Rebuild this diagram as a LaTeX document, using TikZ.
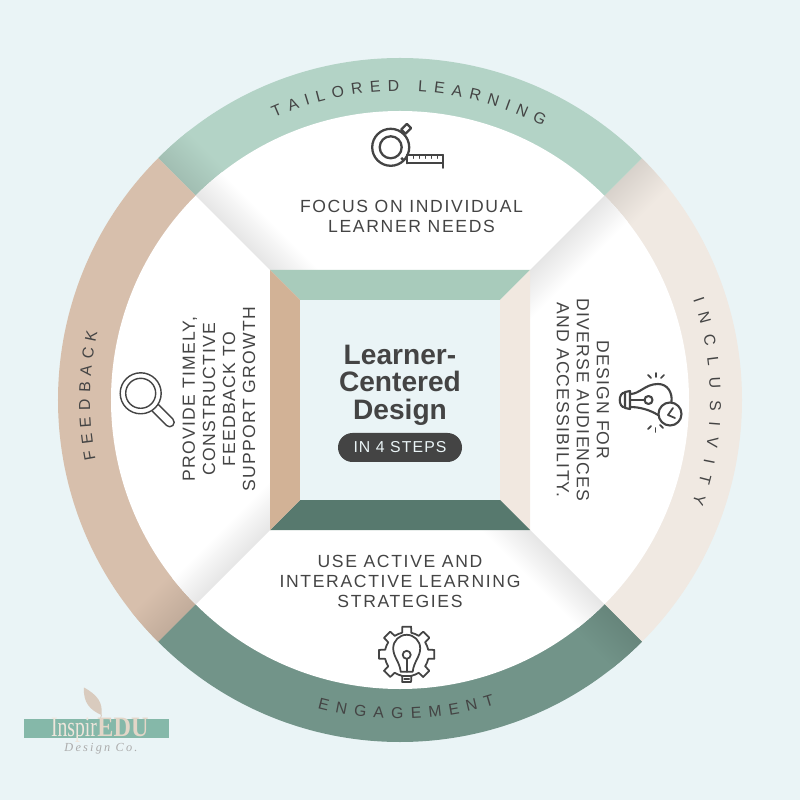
\documentclass[tikz,border=0pt]{standalone}
\usepackage{fontspec}
\setmainfont{Liberation Sans}
\newfontfamily\stepfont[LetterSpace=7]{Liberation Sans}
\newfontfamily\stepwide[LetterSpace=9.5]{Liberation Sans}
\newfontfamily\pillfont[LetterSpace=7]{Liberation Sans}
\newfontfamily\logofont{Liberation Serif}
\newfontfamily\logoscript[LetterSpace=18]{Liberation Serif}
\usetikzlibrary{decorations.text}
\definecolor{pagebg}{HTML}{EAF4F6}
\definecolor{inktext}{HTML}{444444}
\definecolor{ringmint}{HTML}{B3D3C6}
\definecolor{ringbeige}{HTML}{F0E9E2}
\definecolor{ringsage}{HTML}{729489}
\definecolor{ringtan}{HTML}{D7BFAC}
\definecolor{boxmint}{HTML}{A8CBBB}
\definecolor{boxbeige}{HTML}{F1E8E0}
\definecolor{boxsage}{HTML}{57796E}
\definecolor{boxtan}{HTML}{D2B296}
\definecolor{logobar}{HTML}{85B8A9}
\definecolor{logocream}{HTML}{EFE6DC}
\definecolor{logobeige}{HTML}{E3D6C8}
\definecolor{logoquill}{HTML}{D9CBBE}

\begin{document}
\begin{tikzpicture}[
    steptext/.style={text=inktext, align=center,
                     font=\stepfont\fontsize{10}{11.4}\selectfont},
    widetext/.style={text=inktext, align=center,
                     font=\stepwide\fontsize{10}{11.4}\selectfont},
    iconline/.style={draw=inktext, line width=1.3pt, line join=round, line cap=round},
    gearline/.style={draw=inktext, line width=1pt, line join=round, line cap=round},
    thinicon/.style={draw=inktext, line width=0.8pt, line join=round, line cap=round},
    ringlabel/.style={decorate, decoration={text along path, text align={fit to path},
                      text={#1}}}
]
\fill[pagebg] (-8,-8) rectangle (8,8);
\useasboundingbox (-8,-8) rectangle (8,8);

\foreach \ang/\seg in {45/ringbeige,135/ringmint,225/ringtan,315/ringsage} {
  \fill[\seg] (0,0) -- (\ang:6.84) arc[start angle=\ang, delta angle=-90, radius=6.84] -- cycle;
  \begin{scope}[transform canvas={rotate=\ang}]
    \clip (0,0) circle (6.84);
    \shade[top color=\seg!90!black, bottom color=\seg] (4,0) rectangle (7,-0.8);
  \end{scope}
}

\fill[white] (0,0) circle (5.78);
\foreach \ang in {45,135,225,315} {
  \begin{scope}[transform canvas={rotate=\ang}]
    \clip (0,0) circle (5.78);
    \shade[top color=black!10, bottom color=white] (0,0) rectangle (6,-0.7);
  \end{scope}
}

\fill[boxmint]  (-2.6,2.6) -- (2.6,2.6) -- (2,2) -- (-2,2) -- cycle;
\fill[boxbeige] (2.6,2.6) -- (2.6,-2.6) -- (2,-2) -- (2,2) -- cycle;
\fill[boxsage]  (2.6,-2.6) -- (-2.6,-2.6) -- (-2,-2) -- (2,-2) -- cycle;
\fill[boxtan]   (-2.6,-2.6) -- (-2.6,2.6) -- (-2,2) -- (-2,-2) -- cycle;
\fill[pagebg]   (-2,-2) rectangle (2,2);

\node[text=inktext, align=center, font=\bfseries\fontsize{16}{15.6}\selectfont]
  (title) at (0,0.3) {Learner-\\Centered\\Design};
\node[fill=inktext, text=pagebg, rounded corners=0.29cm, minimum width=2.48cm,
      minimum height=0.58cm, inner sep=0pt, font=\pillfont\fontsize{9}{9}\selectfont]
  (steps) at (0,-0.95) {IN 4 STEPS};

\node[widetext] (tailored) at (0.23,3.68) {FOCUS ON INDIVIDUAL\\LEARNER NEEDS};
\node[steptext, rotate=-90] (inclusive) at (3.66,0) {DESIGN FOR\\DIVERSE AUDIENCES\\AND ACCESSIBILITY.};
\node[widetext] (engage) at (0,-3.62) {USE ACTIVE AND\\INTERACTIVE LEARNING\\STRATEGIES};
\node[steptext, rotate=90] (feedback) at (-3.62,0.02) {PROVIDE TIMELY,\\CONSTRUCTIVE\\FEEDBACK TO\\SUPPORT GROWTH};

\path[ringlabel={|\color{inktext}\fontsize{9}{9}\selectfont|TAILORED LEARNING}]
  (114:6.18) arc[start angle=114, end angle=62.5, radius=6.18];
\path[ringlabel={|\color{inktext}\fontsize{9}{9}\selectfont|INCLUSIVITY}]
  (19:6.2) arc[start angle=19, end angle=-19.5, radius=6.2];
\path[ringlabel={|\color{inktext}\fontsize{9}{9}\selectfont|ENGAGEMENT}]
  (255:6.38) arc[start angle=255, end angle=287.3, radius=6.38];
\path[ringlabel={|\color{inktext}\fontsize{9}{9}\selectfont|FEEDBACK}]
  (191:6.2) arc[start angle=191, end angle=167.3, radius=6.2];

\begin{scope}[shift={(-0.186,5.054)}]
  \draw[iconline] (0,0) circle (0.22);
  \draw[iconline] (0,0) circle (0.37);
  \draw[iconline] (0.33,-0.32) -- (1.04,-0.32) -- (1.04,-0.154) -- (0.33,-0.154);
  \draw[iconline] (1.04,-0.154) -- (1.04,-0.41);
  \draw[iconline] (0.33,-0.154) -- (0.33,-0.32);
  \draw[iconline, rotate around={45:(0.31,0.37)}] (0.23,0.31) rectangle (0.39,0.43);
  \foreach \tick in {0.45,0.57,0.69,0.81,0.93} {
    \draw[thinicon] (\tick,-0.154) -- (\tick,-0.22);
  }
  \fill[inktext] (0.23,-0.23) circle (0.035);
\end{scope}

\begin{scope}[shift={(5,0)}]
  \draw[gearline, line width=1.2pt] (-0.4,0.12) .. controls (-0.2,0.12) and (-0.1,0.32) .. (0.16,0.32)
    .. controls (0.35,0.32) and (0.45,0.15) .. (0.43,-0.03);
  \draw[gearline, line width=1.2pt] (-0.4,-0.14) .. controls (-0.2,-0.14) and (0,-0.2) .. (0.16,-0.3);
  \draw[gearline, line width=1.2pt] (-0.4,0.18) -- (-0.4,-0.18) -- (-0.5,-0.16) -- (-0.5,0.16) -- cycle;
  \draw[gearline, line width=1.2pt] (-0.5,0.15) .. controls (-0.64,0.15) and (-0.64,-0.15) .. (-0.5,-0.15);
  \draw[gearline, line width=1.2pt] (-0.4,0) -- (-0.11,0);
  \draw[gearline, line width=1.2pt] (-0.03,0) circle (0.08);
  \draw[gearline, line width=1.2pt] (0.4,-0.28) circle (0.23);
  \draw[gearline] (0.46,-0.16) -- (0.36,-0.3) -- (0.5,-0.36);
  \draw[gearline] (-0.04,0.5) -- (0.02,0.44);
  \draw[gearline] (0.12,0.54) -- (0.12,0.46);
  \draw[gearline] (0.28,0.5) -- (0.22,0.44);
  \draw[gearline] (-0.04,-0.58) -- (0.02,-0.52);
  \draw[gearline] (0.11,-0.64) -- (0.11,-0.56);
  \draw[gearline] (0.26,-0.56) -- (0.2,-0.5);
\end{scope}

\begin{scope}[shift={(0.134,-5.086)}]
  \foreach \t in {0,45,...,315} {
    \draw[gearline] (\t-9:0.56) -- (\t+9:0.56) -- (\t+12:0.44)
      arc[start angle=\t+12, end angle=\t+33, radius=0.44] -- (\t+36:0.56);
  }
  \draw[gearline] (-0.12,-0.35) .. controls (-0.14,-0.15) and (-0.27,-0.05) .. (-0.27,0.12)
    arc[start angle=180, end angle=0, radius=0.27]
    .. controls (0.27,-0.05) and (0.14,-0.15) .. (0.12,-0.35) -- cycle;
  \draw[gearline] (-0.1,-0.43) -- (0.1,-0.43);
  \draw[gearline] (-0.05,-0.5) -- (0.05,-0.5);
  \draw[gearline] (0,-0.01) circle (0.08);
  \draw[gearline] (0,-0.09) -- (0,-0.35);
\end{scope}

\begin{scope}[shift={(-5.186,0.134)}]
  \draw[thinicon] (0,0) circle (0.41);
  \draw[thinicon] (0,0) circle (0.3);
  \begin{scope}[rotate=-45]
    \draw[thinicon] (0.41,0.09) -- (0.82,0.09)
      arc[start angle=90, end angle=-90, radius=0.09] -- (0.41,-0.09);
  \end{scope}
\end{scope}

\fill[logoquill] (-6.32,-5.75) .. controls (-6.05,-5.9) and (-5.94,-6.05) .. (-5.97,-6.3)
  .. controls (-6.2,-6.2) and (-6.34,-6.05) .. (-6.32,-5.75) -- cycle;
\draw[logoquill, line width=0.5pt] (-5.97,-6.3) -- (-6,-6.4);
\fill[logobar] (-7.51,-6.38) rectangle (-4.61,-6.75);
\node[text=logocream, font=\logofont\fontsize{16}{16}\selectfont, xscale=0.7, inner sep=0pt, anchor=base]
  (logoinspire) at (-6.52,-6.73) {Inspir};
\node[text=logobeige, font=\logofont\bfseries\fontsize{16}{16}\selectfont, xscale=0.86, inner sep=0pt, anchor=base]
  (logoedu) at (-5.54,-6.73) {EDU};
\node[text=gray!65, font=\logoscript\itshape\fontsize{7}{7}\selectfont, inner sep=0pt]
  (logodesign) at (-5.98,-6.98) {Design Co.};

\end{tikzpicture}
\end{document}
